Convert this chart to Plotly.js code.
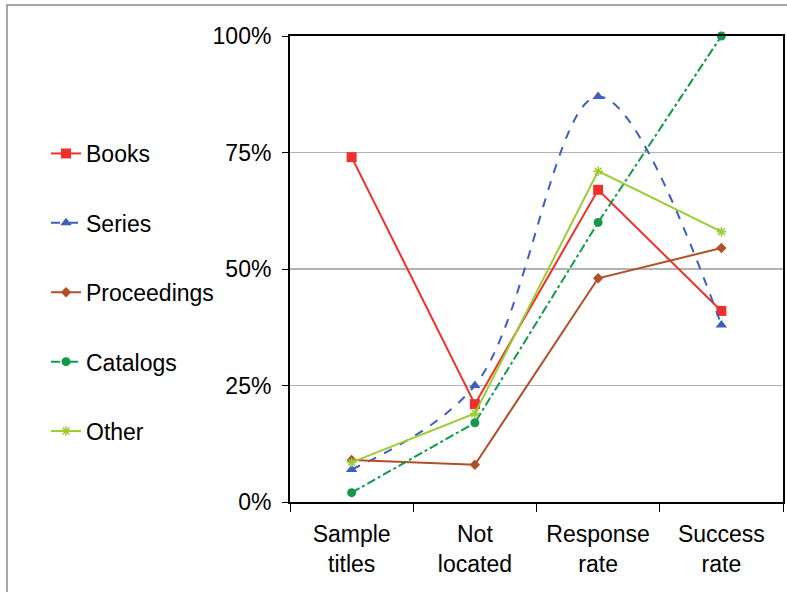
<!DOCTYPE html>
<html><head><meta charset="utf-8">
<script src="https://cdn.plot.ly/plotly-3.0.1.min.js"></script>
<style>html,body{margin:0;padding:0;background:#fff}#chart{width:787px;height:592px}</style>
</head><body><div id="chart"></div>
<script>
const categories = ["Sample<br>titles", "Not<br>located", "Response<br>rate", "Success<br>rate"];
const books = [0.74, 0.21, 0.67, 0.41];
const series = [0.07, 0.25, 0.87, 0.38];
const proceedings = [0.09, 0.08, 0.48, 0.545];
const catalogs = [0.02, 0.17, 0.60, 1.00];
const other = [0.085, 0.19, 0.71, 0.58];
const yTickVals = [0, 0.25, 0.5, 0.75, 1];
const yTickText = ["0%", "25%", "50%", "75%", "100%"];

function tr(name, y, color, dash, symbol, size, shape, grp) {
  return {
    type: "scatter", mode: "lines+markers", name: name, x: categories, y: y,
    line: {color: color, width: 2, dash: dash, shape: shape || "linear", smoothing: 1},
    marker: {color: color, symbol: symbol, size: size, line: {color: color, width: symbol.indexOf("open") >= 0 ? 1.5 : 0}},
    cliponaxis: false, legendgroup: grp
  };
}
const data = [
  tr("Books", books, "#f2302b", "solid", "square", 10, null, "a"),
  tr("Series", series, "#3f5fbd", "dash", "triangle-up", 10, "spline", "b"),
  tr("Proceedings", proceedings, "#b14f27", "solid", "diamond", 8, null, "c"),
  tr("Catalogs", catalogs, "#12994a", "dashdot", "circle", 9, null, "d"),
  tr("Other", other, "#9ccc34", "solid", "asterisk-open", 8, null, "e")
];
const L = 290, R = 4, T = 36, B = 90, W = 787, H = 592;
const pw = W - L - R, ph = H - T - B;
const FS = 23;
const layout = {
  width: W, height: H, margin: {l: L, r: R, t: T, b: B},
  paper_bgcolor: "#fff", plot_bgcolor: "#fff",
  font: {family: "Liberation Sans, Arial, sans-serif", size: FS, color: "#000"},
  showlegend: true,
  legend: {x: (46 - L) / pw, xanchor: "left", y: (H - B - 132) / ph, yanchor: "top",
           tracegroupgap: 36.5, traceorder: "grouped", font: {size: FS}, bgcolor: "rgba(0,0,0,0)"},
  xaxis: {type: "category", tickson: "boundaries", ticks: "outside", ticklen: 8, tickcolor: "#000",
          showline: true, linecolor: "#000", linewidth: 2, mirror: true, showgrid: false,
          range: [-0.5, 3.5], tickfont: {size: FS}, ticklabelstandoff: 10},
  yaxis: {range: [0, 1], tickvals: yTickVals, ticktext: yTickText, ticks: "outside", ticklen: 6,
          tickcolor: "#000", showline: true, linecolor: "#000", linewidth: 2, mirror: true,
          showgrid: true, gridcolor: "#b3b3b3", gridwidth: 1.5, zeroline: false, tickfont: {size: FS},
          ticklabelstandoff: 6},
  shapes: [{type: "rect", xref: "paper", yref: "paper",
            x0: (7 - L) / pw, x1: (800 - L) / pw, y0: (H - B - 600) / ph, y1: (H - B - 5) / ph,
            line: {color: "#8a8a8a", width: 1.5}, fillcolor: "rgba(0,0,0,0)", layer: "below"}]
};
Plotly.newPlot("chart", data, layout, {displayModeBar: false, staticPlot: true});
</script></body></html>
